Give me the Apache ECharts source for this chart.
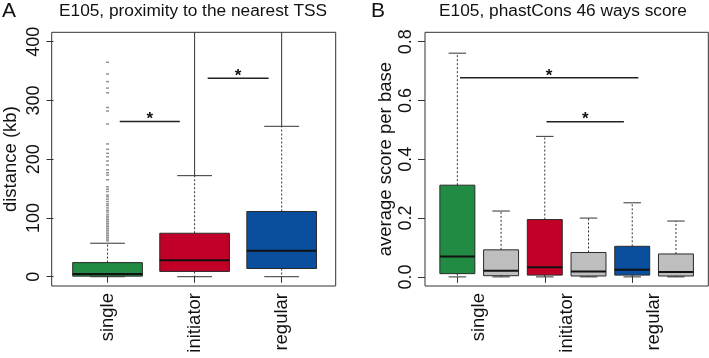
<!DOCTYPE html>
<html>
<head>
<meta charset="utf-8">
<script src="https://cdn.jsdelivr.net/npm/echarts@6/dist/echarts.min.js"></script>
<style>
  html, body { margin: 0; padding: 0; background: #fff; }
  #chart { width: 709px; height: 358px; }
</style>
</head>
<body>
<div id="chart"></div>
<script>
// Panel A: distance to nearest TSS (kb)
const catsA = ['single', 'initiator', 'regular'];
const lowA = [0, 0, 0];
const q1A = [1, 9, 14];
const medA = [4.5, 28, 44];
const q3A = [24, 74, 111];
const highA = [57, 172, 256];
// dense outliers drawn as a solid line going off the top of the plot
const outTopA = [null, 2000, 2000];
const singleOutliers = [365, 345, 332, 321, 313, 288, 282, 260, 226, 217, 210, 204, 197, 190, 182, 177,
    173, 165, 153, 149, 145, 139, 136, 132, 128, 124, 121, 117, 113, 110, 106, 103, 100, 97, 94,
    91, 88, 85, 82, 79, 76, 73, 70, 67, 64, 61];
const sigFromA = [0.14, 1.15];
const sigToA = [0.83, 1.85];
const sigYA = [264, 338];

// Panel B: phastCons score
const catsB = ['single', 'single bg', 'initiator', 'initiator bg', 'regular', 'regular bg'];
const labelsB = ['single', 'initiator', 'regular'];
const lowB = [0, 0, 0, 0, 0, 0];
const q1B = [0.011, 0.004, 0.006, 0.003, 0.006, 0.003];
const medB = [0.069, 0.021, 0.033, 0.018, 0.024, 0.017];
const q3B = [0.312, 0.092, 0.195, 0.083, 0.104, 0.078];
const highB = [0.761, 0.224, 0.478, 0.200, 0.252, 0.190];
const sigFromB = [0.06, 2.04];
const sigToB = [4.14, 3.81];
const sigYB = [0.677, 0.528];

const green = '#218a43', red = '#c10028', blue = '#0a4f9e', grey = '#bebebe';
const colorsA = [green, red, blue];
const colorsB = [green, grey, red, grey, blue, grey];

const FONT = '"Liberation Sans", Arial, sans-serif';
const AX_FONT = 18.5;

function boxRender(colors) {
    return function (params, api) {
        const i = api.value(0);
        const band = api.size([1, 0])[0];
        const x = api.coord([i, 0])[0];
        const yLow = api.coord([i, api.value(1)])[1];
        const yQ1 = api.coord([i, api.value(2)])[1];
        const yMed = api.coord([i, api.value(3)])[1];
        const yQ3 = api.coord([i, api.value(4)])[1];
        const yHigh = api.coord([i, api.value(5)])[1];
        const bw = band * 0.8, cw = band * 0.4;
        const dash = {stroke: '#333', lineWidth: 1, lineDash: [2, 2]};
        const solid = {stroke: '#333', lineWidth: 1};
        const children = [
            {type: 'line', shape: {x1: x, y1: yQ3, x2: x, y2: yHigh}, style: dash},
            {type: 'line', shape: {x1: x, y1: yQ1, x2: x, y2: yLow}, style: dash},
            {type: 'line', shape: {x1: x - cw / 2, y1: yHigh, x2: x + cw / 2, y2: yHigh}, style: solid},
            {type: 'line', shape: {x1: x - cw / 2, y1: yLow, x2: x + cw / 2, y2: yLow}, style: solid},
            {type: 'rect', shape: {x: x - bw / 2, y: yQ3, width: bw, height: yQ1 - yQ3},
                style: {fill: colors[i], stroke: '#2a2a2a', lineWidth: 1}},
            {type: 'line', shape: {x1: x - bw / 2, y1: yMed, x2: x + bw / 2, y2: yMed},
                style: {stroke: '#111', lineWidth: 2}}
        ];
        const top = api.value(6);
        if (top !== null && !isNaN(top)) {
            const yTop = Math.max(api.coord([i, top])[1], params.coordSys.y);
            children.push({type: 'line', shape: {x1: x, y1: yHigh, x2: x, y2: yTop}, style: solid});
        }
        return {type: 'group', children: children};
    };
}

function sigRender(params, api) {
    const band = api.size([1, 0])[0];
    const x0 = api.coord([0, 0])[0];
    const y = api.coord([0, api.value(2)])[1];
    const xa = x0 + api.value(0) * band;
    const xb = x0 + api.value(1) * band;
    return {
        type: 'group',
        children: [
            {type: 'line', shape: {x1: xa, y1: y, x2: xb, y2: y}, style: {stroke: '#222', lineWidth: 1.5}},
            {type: 'text', x: (xa + xb) / 2, y: y - 2,
                style: {text: '*', fill: '#111', font: 'bold 17px ' + FONT, align: 'center', verticalAlign: 'middle'}}
        ]
    };
}

function valueAxis(gridIndex, min, max, ticks, fmt, name, nameGap) {
    return {
        type: 'value', gridIndex: gridIndex, min: min, max: max, offset: 10.5,
        name: name, nameLocation: 'middle', nameGap: nameGap,
        nameTextStyle: {fontSize: AX_FONT, fontFamily: FONT, color: '#111'},
        axisLine: {show: false},
        axisTick: {show: true, length: 7, customValues: ticks, lineStyle: {color: '#333'}},
        axisLabel: {rotate: 90, customValues: ticks, formatter: fmt, fontSize: 18, fontFamily: FONT,
            color: '#111', margin: 10},
        splitLine: {show: false}
    };
}

const chart = echarts.init(document.getElementById('chart'), null, {renderer: 'canvas'});

const option = {
    animation: false,
    backgroundColor: '#fff',
    title: [
        {text: 'A', left: 2, top: 1, padding: 0, textStyle: {fontSize: 21, fontWeight: 'normal', fontFamily: FONT, color: '#111'}},
        {text: 'E105, proximity to the nearest TSS', left: 193, top: 3, padding: 0, textAlign: 'center',
            textStyle: {fontSize: 17.3, fontWeight: 'normal', fontFamily: FONT, color: '#111'}},
        {text: 'B', left: 371, top: 1, padding: 0, textStyle: {fontSize: 21, fontWeight: 'normal', fontFamily: FONT, color: '#111'}},
        {text: 'E105, phastCons 46 ways score', left: 563, top: 3, padding: 0, textAlign: 'center',
            textStyle: {fontSize: 17.3, fontWeight: 'normal', fontFamily: FONT, color: '#111'}}
    ],
    grid: [
        {left: 62.2, top: 32.3, width: 263, height: 253.7},
        {left: 51.7, top: 32.3, width: 284, height: 253.7, show: true, borderColor: '#333', borderWidth: 1, backgroundColor: 'transparent'},
        {left: 435.5, top: 32.3, width: 262.3, height: 253.7},
        {left: 425, top: 32.3, width: 283.3, height: 253.7, show: true, borderColor: '#333', borderWidth: 1, backgroundColor: 'transparent'}
    ],
    xAxis: [
        {type: 'category', gridIndex: 0, data: catsA,
            axisLine: {show: false},
            axisTick: {show: true, alignWithLabel: true, length: 6, lineStyle: {color: '#333'}},
            axisLabel: {rotate: 90, fontSize: AX_FONT, fontFamily: FONT, color: '#111', margin: 7}},
        {type: 'value', gridIndex: 1, show: false},
        {type: 'category', gridIndex: 2, data: catsB,
            axisLine: {show: false},
            axisTick: {show: true, alignWithLabel: true, length: 6, lineStyle: {color: '#333'}},
            axisLabel: {show: false}},
        {type: 'category', gridIndex: 2, data: labelsB, position: 'bottom',
            axisLine: {show: false}, axisTick: {show: false},
            axisLabel: {rotate: 90, fontSize: AX_FONT, fontFamily: FONT, color: '#111', margin: 7}},
        {type: 'value', gridIndex: 3, show: false}
    ],
    yAxis: [
        valueAxis(0, -15.8, 416, [0, 100, 200, 300, 400], v => String(v), 'distance (kb)', 33.5),
        {type: 'value', gridIndex: 1, show: false},
        valueAxis(2, -0.031, 0.832, [0, 0.2, 0.4, 0.6, 0.8], v => v.toFixed(1), 'average score per base', 29.5),
        {type: 'value', gridIndex: 3, show: false}
    ],
    series: [
        {type: 'scatter', xAxisIndex: 0, yAxisIndex: 0, silent: true,
            symbol: 'rect', symbolSize: [3, 1.5], itemStyle: {color: '#777'},
            data: singleOutliers.map(v => [0, v])},
        {type: 'custom', xAxisIndex: 0, yAxisIndex: 0, silent: true,
            renderItem: boxRender(colorsA),
            encode: {x: 0, y: [1, 2, 3, 4, 5]},
            data: catsA.map((c, i) => [i, lowA[i], q1A[i], medA[i], q3A[i], highA[i], outTopA[i]])},
        {type: 'custom', xAxisIndex: 0, yAxisIndex: 0, silent: true,
            renderItem: sigRender, encode: {y: 2},
            data: sigYA.map((v, i) => [sigFromA[i], sigToA[i], v])},
        {type: 'custom', xAxisIndex: 2, yAxisIndex: 2, silent: true,
            renderItem: boxRender(colorsB),
            encode: {x: 0, y: [1, 2, 3, 4, 5]},
            data: catsB.map((c, i) => [i, lowB[i], q1B[i], medB[i], q3B[i], highB[i], null])},
        {type: 'custom', xAxisIndex: 2, yAxisIndex: 2, silent: true,
            renderItem: sigRender, encode: {y: 2},
            data: sigYB.map((v, i) => [sigFromB[i], sigToB[i], v])}
    ]
};

chart.setOption(option);
</script>
</body>
</html>
